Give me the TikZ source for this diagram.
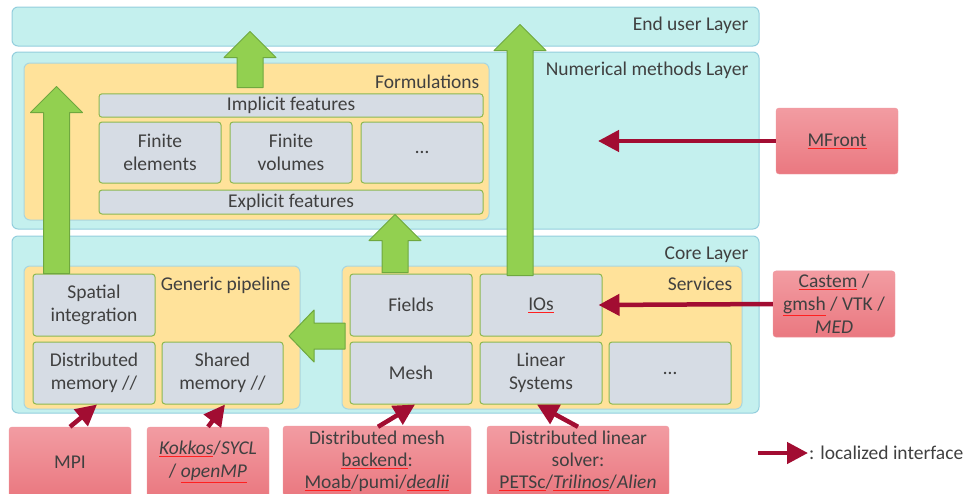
\documentclass[tikz,border=0pt]{standalone}
\usepackage{fontspec}
\setmainfont{Carlito}
\usepackage{xcolor}
\usepackage{tikz}
\usetikzlibrary{arrows.meta, positioning, calc}
\definecolor{layercyan}{HTML}{C4F0EE}
\definecolor{layerline}{HTML}{93CEDD}
\definecolor{groupyellow}{HTML}{FFE29A}
\definecolor{groupline}{HTML}{A8D6E0}
\definecolor{compgray}{HTML}{D6DCE4}
\definecolor{compline}{HTML}{8DB84F}
\definecolor{arrowgreen}{HTML}{92D050}
\definecolor{arrowgreenline}{HTML}{6FA83F}
\definecolor{exttop}{HTML}{F29CA2}
\definecolor{extbot}{HTML}{EA7880}
\definecolor{extline}{HTML}{EF9AA2}
\definecolor{ifacered}{HTML}{A20D32}
\definecolor{squigred}{HTML}{FF2020}
\definecolor{txtgray}{HTML}{404040}

\newcommand{\squig}[1]{{\color{squigred}\underline{\color{txtgray}#1}}}
\newcommand{\upblock}[2]{%
  \draw[garrow] let \p1=#1 in
    (\x1-13pt,\y1) -- (\x1-13pt,\y1+#2pt-26pt) -- (\x1-26pt,\y1+#2pt-26pt)
    -- (\x1,\y1+#2pt) -- (\x1+26pt,\y1+#2pt-26pt) -- (\x1+13pt,\y1+#2pt-26pt)
    -- (\x1+13pt,\y1) -- cycle;}

\begin{document}
\begin{tikzpicture}[x=1pt, y=-1pt,
    every node/.style={font=\fontsize{19.5}{23}\selectfont, text=txtgray},
    layer/.style={draw=layerline, fill=layercyan, rounded corners=6pt, line width=1pt},
    group/.style={draw=groupline, fill=groupyellow, rounded corners=6pt, line width=1pt},
    comp/.style={draw=compline, fill=compgray, rounded corners=3pt, line width=1pt,
                 align=center, minimum height=62pt},
    ext/.style={draw=extline, top color=exttop, bottom color=extbot, rounded corners=3pt,
                align=center, minimum width=122pt},
    ttl/.style={inner sep=0pt},
    iface/.style={-{Triangle[length=21pt, width=21pt]}, line width=4.5pt, ifacered},
    garrow/.style={fill=arrowgreen, draw=arrowgreenline, line width=1pt, line join=round},
  ]
  \clip (0,0) rectangle (963,493);

  % Layers
  \node[layer, minimum width=747pt, minimum height=39pt] (enduser) at (385.5,26.5) {};
  \node[layer, minimum width=747pt, minimum height=177pt] (nummeth) at (385.5,140.5) {};
  \node[layer, minimum width=747pt, minimum height=177pt] (core) at (385.5,324.5) {};
  \node[ttl, below left=10pt and 11pt of enduser.north east] {End user Layer};
  \node[ttl, below left=10pt and 11pt of nummeth.north east] {Numerical methods Layer};
  \node[ttl, below left=11pt and 11pt of core.north east] {Core Layer};

  % Formulations
  \node[group, minimum width=465pt, minimum height=157pt] (form) at (256.5,141.5) {};
  \node[ttl, below left=12pt and 10pt of form.north east] {Formulations};
  \node[comp, minimum width=384pt, minimum height=23pt] (implicit) at (291,105.5) {Implicit features};
  \node[comp, minimum width=122pt, minimum height=61pt] (fe) at (160,152.5) {Finite\\elements};
  \node[comp, minimum width=122pt, minimum height=61pt] (fv) at (291,152.5) {Finite\\volumes};
  \node[comp, minimum width=122pt, minimum height=61pt] (formdots) at (422,152.5) {\dots};
  \node[comp, minimum width=384pt, minimum height=24pt] (explicit) at (291,202) {Explicit features};

  % Generic pipeline
  \node[group, minimum width=276pt, minimum height=143pt] (pipe) at (162,337.5) {};
  \node[ttl, below left=11pt and 10pt of pipe.north east] {Generic pipeline};
  \node[comp, minimum width=122pt] (spat) at (94,305) {Spatial\\integration};
  \node[comp, minimum width=122pt] (dmem) at (94,373) {Distributed\\memory //};
  \node[comp, minimum width=121pt] (smem) at (222.5,373) {Shared\\memory //};

  % Services
  \node[group, minimum width=400pt, minimum height=143pt] (serv) at (542,337.5) {};
  \node[ttl, below left=11pt and 10pt of serv.north east] {Services};
  \node[comp, minimum width=122pt] (fields) at (411,305) {Fields};
  \node[comp, minimum width=122pt] (ios) at (541,305) {\squig{IOs}};
  \node[comp, minimum width=122pt] (mesh) at (411,373) {Mesh};
  \node[comp, minimum width=122pt] (linsys) at (541,373) {Linear\\Systems};
  \node[comp, minimum width=122pt] (servdots) at (670,373) {\dots};

  % External libraries
  \node[ext, minimum height=66pt] (mfront) at (837,141) {\squig{MFront}};
  \node[ext, minimum height=66pt] (castem) at (834,304)
    {\squig{Castem} /\\\squig{gmsh} / VTK /\\\textit{MED}};
  \node[ext, minimum height=70pt] (mpi) at (70,462) {MPI};
  \node[ext, minimum height=70pt] (kokkos) at (208,462)
    {\textit{\squig{Kokkos}}/\textit{SYCL}\\/ \textit{\squig{openMP}}};
  \node[ext, minimum height=70pt, minimum width=188pt, font=\fontsize{19.5}{22}\selectfont,
        inner ysep=1pt] (distmesh) at (377,461)
    {Distributed mesh\\\squig{backend}:\\\squig{Moab}/pumi/\textit{\squig{dealii}}};
  \node[ext, minimum height=70pt, minimum width=182pt, font=\fontsize{19.5}{22}\selectfont,
        inner ysep=1pt] (distlin) at (578,461)
    {Distributed linear\\solver:\\\squig{PETSc}/\textit{\squig{Trilinos}}/\textit{Alien}};

  % Green arrows
  \upblock{($(spat.north)+(-37.5,0)$)}{187}
  \upblock{($(form.north)+(-6.5,25)$)}{56}
  \upblock{($(fields.north)+(-16,-1)$)}{58}
  \upblock{($(ios.north)+(-21,2)$)}{251}
  \draw[garrow] (345,323) -- (314,323) -- (314,310) -- (289,336) -- (314,362)
    -- (314,349) -- (345,349) -- cycle;

  % Localized interfaces
  \coordinate (mfrontend) at (598,141);
  \draw[iface] (mfront.west) -- (mfrontend);
  \draw[iface] (castem.west) -- ($(ios.east)+(-4,0)$);
  \draw[iface] (mpi.north) -- ($(dmem.south)+(3,0)$);
  \draw[iface] (kokkos.north) -- ($(smem.south)+(2.5,0)$);
  \draw[iface] ($(distmesh.north)+(1,1)$) -- ($(mesh.south)+(4,0)$);
  \draw[iface] ($(distlin.north)+(0,1)$) -- ($(linsys.south)+(-4,0)$);

  % Legend
  \coordinate (legs) at (758,453);
  \coordinate (lege) at (808,453);
  \draw[iface] (legs) -- (lege);
  \node[anchor=west, inner sep=1pt] (legtext) at (lege) {: localized interface};

\end{tikzpicture}
\end{document}
